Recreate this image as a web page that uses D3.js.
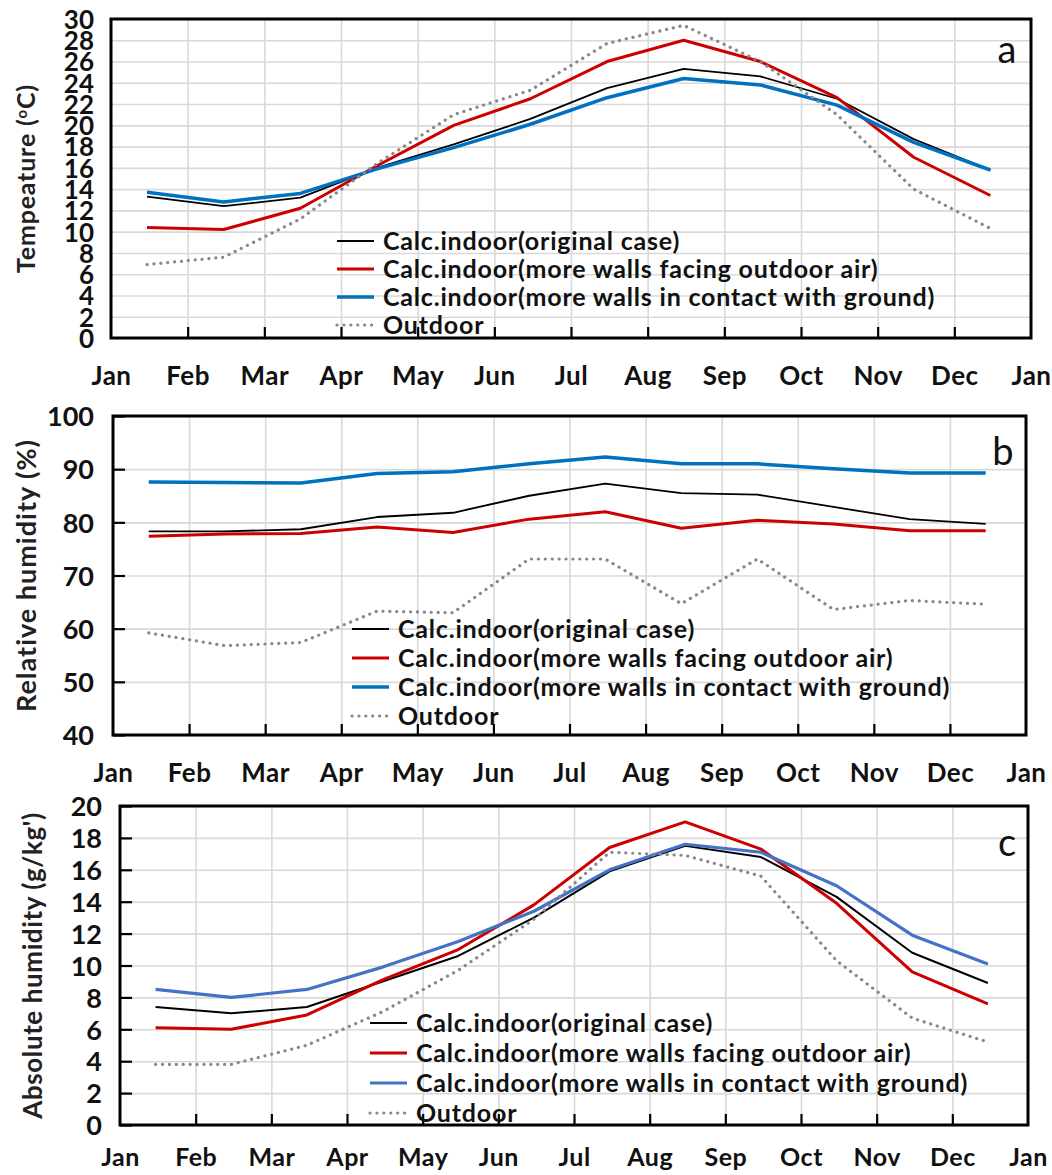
<!DOCTYPE html>
<html>
<head>
<meta charset="utf-8">
<script src="https://cdn.jsdelivr.net/npm/d3@7"></script>
<style>
  body { margin: 0; background: #fff; }
  text { font-family: Lato, "Open Sans", sans-serif; }
</style>
</head>
<body>
<div id="chart"></div>
<script>
// month labels on the x axis (boundaries), values sit at mid-month
const monthLabels = ["Jan","Feb","Mar","Apr","May","Jun","Jul","Aug","Sep","Oct","Nov","Dec","Jan"];
const seriesNames = [
  "Calc.indoor(original case)",
  "Calc.indoor(more walls facing outdoor air)",
  "Calc.indoor(more walls in contact with ground)",
  "Outdoor"
];

// (a) temperature, degC
const tempOriginal = [13.3, 12.4, 13.2, 16.0, 18.2, 20.6, 23.5, 25.3, 24.6, 22.5, 18.7, 15.8];
const tempOutWalls = [10.4, 10.2, 12.2, 16.2, 20.0, 22.5, 26.0, 28.0, 26.0, 22.6, 17.0, 13.4];
const tempGround   = [13.7, 12.8, 13.6, 15.9, 17.9, 20.1, 22.6, 24.4, 23.8, 21.9, 18.4, 15.8];
const tempOutdoor  = [6.9, 7.6, 11.2, 16.4, 21.0, 23.3, 27.7, 29.4, 26.0, 21.0, 14.0, 10.3];

// (b) relative humidity, %
const rhOriginal = [78.3, 78.3, 78.7, 81.0, 81.8, 85.0, 87.3, 85.5, 85.2, 82.9, 80.6, 79.7];
const rhOutWalls = [77.4, 77.8, 77.9, 79.1, 78.1, 80.6, 82.0, 78.9, 80.4, 79.7, 78.4, 78.4];
const rhGround   = [87.6, 87.5, 87.4, 89.2, 89.5, 91.0, 92.3, 91.0, 91.0, 90.1, 89.3, 89.3];
const rhOutdoor  = [59.2, 56.8, 57.4, 63.3, 63.0, 73.1, 73.1, 64.7, 73.1, 63.6, 65.3, 64.6];

// (c) absolute humidity, g/kg'
const ahOriginal = [7.4, 7.0, 7.4, 9.0, 10.6, 13.0, 15.9, 17.5, 16.8, 14.3, 10.8, 8.9];
const ahOutWalls = [6.1, 6.0, 6.9, 9.1, 11.0, 13.8, 17.4, 19.0, 17.3, 13.9, 9.6, 7.6];
const ahGround   = [8.5, 8.0, 8.5, 9.9, 11.5, 13.4, 16.0, 17.6, 17.1, 15.0, 11.9, 10.1];
const ahOutdoor  = [3.8, 3.8, 5.0, 7.1, 9.7, 12.9, 17.1, 16.9, 15.6, 10.3, 6.7, 5.2];

const midMonth = 0.47;

const svg = d3.select("#chart")
  .append("svg")
  .attr("width", 1052)
  .attr("height", 1175);

/**
 * draw one panel (frame, grid, axes, lines, legend)
 */
function drawPanel(p){
  const x = d3.scaleLinear().domain([0, 12]).range([p.left, p.right]);
  const y = d3.scaleLinear().domain([p.yMin, p.yMax]).range([p.bottom, p.top]);
  const g = svg.append("g");

  // grid
  g.append("g")
    .attr("transform", "translate(" + p.left + ",0)")
    .call(d3.axisLeft(y).tickValues(d3.range(p.yMin, p.yMax + 0.01, p.gridStep))
      .tickSize(-(p.right - p.left)).tickFormat(""))
    .call(a => a.select(".domain").remove())
    .call(a => a.selectAll("line").attr("stroke", "#d9d9d9").attr("stroke-width", 1.6));
  g.append("g")
    .attr("transform", "translate(0," + p.bottom + ")")
    .call(d3.axisBottom(x).tickValues(d3.range(1, 12)).tickSize(-(p.bottom - p.top)).tickFormat(""))
    .call(a => a.select(".domain").remove())
    .call(a => a.selectAll("line").attr("stroke", "#d9d9d9").attr("stroke-width", 1.6));

  // inward month ticks
  g.append("g")
    .attr("transform", "translate(0," + p.bottom + ")")
    .call(d3.axisBottom(x).tickValues(d3.range(1, 12)).tickSize(-11).tickFormat(""))
    .call(a => a.select(".domain").remove())
    .call(a => a.selectAll("line").attr("stroke", "#000").attr("stroke-width", 2.2));

  // x labels
  g.append("g")
    .attr("transform", "translate(0," + p.xLabelY + ")")
    .call(d3.axisBottom(x).tickValues(d3.range(0, 13)).tickSize(0)
      .tickFormat(i => monthLabels[i]))
    .call(a => a.select(".domain").remove())
    .call(a => a.selectAll("text")
      .attr("dy", "0.35em").attr("y", 0)
      .style("font-size", p.xFont + "px").style("font-weight", 700)
      .style("letter-spacing", "0.5px").attr("fill", "#111"));

  // y ticks and labels
  g.append("g")
    .attr("transform", "translate(" + p.left + ",0)")
    .call(d3.axisRight(y).tickValues(d3.range(p.yMin, p.yMax + 0.01, p.yStep))
      .tickSize(p.yTickLen).tickFormat(""))
    .call(a => a.select(".domain").remove())
    .call(a => a.selectAll("line").attr("stroke", "#000").attr("stroke-width", 2.2));
  g.append("g")
    .attr("transform", "translate(" + p.labelEdge + ",0)")
    .call(d3.axisLeft(y).tickValues(d3.range(p.yMin, p.yMax + 0.01, p.yStep)).tickSize(0))
    .call(a => a.select(".domain").remove())
    .call(a => a.selectAll("text")
      .attr("x", 0).attr("dy", "0.36em")
      .style("font-size", p.tickFont + "px").style("font-weight", 700).attr("fill", "#111"));

  // y title
  const t = g.append("text")
    .attr("transform", "translate(" + p.titleX + "," + (p.top + p.bottom) / 2 + ") rotate(-90)")
    .attr("text-anchor", "middle")
    .attr("dy", "0.35em")
    .style("font-size", p.titleSize + "px").style("font-weight", 700)
    .style("letter-spacing", p.titleSpacing + "px").attr("fill", "#222");
  if (p.degree) {
    t.append("tspan").text("Tempeature (");
    t.append("tspan").text("o").style("font-size", "15px").attr("dy", "-0.55em");
    t.append("tspan").text("C)").attr("dy", "0.35em");
  } else {
    t.text(p.title);
  }

  // lines
  const line = d3.line()
    .x((d, i) => x(i + midMonth))
    .y(d => y(d));
  p.series.forEach((s, k) => {
    g.append("path")
      .datum(s)
      .attr("fill", "none")
      .attr("stroke", p.colors[k])
      .attr("stroke-width", p.widths[k])
      .attr("stroke-linejoin", "round")
      .attr("stroke-linecap", k == 3 ? "round" : "butt")
      .attr("stroke-dasharray", k == 3 ? "0.1,6.8" : null)
      .attr("d", line);
  });

  // frame
  g.append("rect")
    .attr("x", p.left).attr("y", p.top)
    .attr("width", p.right - p.left).attr("height", p.bottom - p.top)
    .attr("fill", "none").attr("stroke", "#000").attr("stroke-width", 3);

  // legend
  seriesNames.forEach((name, k) => {
    const ly = p.legY + k * p.legDy;
    g.append("line")
      .attr("x1", p.legX).attr("x2", p.legX + 37)
      .attr("y1", ly).attr("y2", ly)
      .attr("stroke", p.colors[k])
      .attr("stroke-width", p.widths[k])
      .attr("stroke-linecap", k == 3 ? "round" : "butt")
      .attr("stroke-dasharray", k == 3 ? "0.1,6.8" : null);
    g.append("text")
      .attr("x", p.legX + 46).attr("y", ly)
      .attr("dy", "0.36em")
      .style("font-size", "25px").style("font-weight", 700)
      .style("letter-spacing", "0.8px").attr("fill", "#111")
      .text(name);
  });

  // panel letter
  g.append("text")
    .attr("x", p.letterX).attr("y", p.letterY)
    .attr("text-anchor", "middle")
    .style("font-size", "38px").attr("fill", "#111")
    .text(p.letter);
}

drawPanel({
  left: 111, right: 1031, top: 19, bottom: 338,
  yMin: 0, yMax: 30, yStep: 2, gridStep: 2, yTickLen: 0,
  labelEdge: 94, tickFont: 26, xLabelY: 376, xFont: 26,
  titleX: 26, degree: true, titleSize: 25, titleSpacing: 0.8,
  series: [tempOriginal, tempOutWalls, tempGround, tempOutdoor],
  colors: ["#000", "#cc0000", "#0070c0", "#888"],
  widths: [1.8, 3, 3.5, 3.2],
  legX: 337, legY: 241, legDy: 28,
  letter: "a", letterX: 1007, letterY: 63
});

drawPanel({
  left: 113, right: 1026, top: 416, bottom: 735,
  yMin: 40, yMax: 100, yStep: 10, gridStep: 10, yTickLen: 12,
  labelEdge: 94, tickFont: 27, xLabelY: 773, xFont: 26,
  titleX: 27, title: "Relative humidity (%)", titleSize: 27, titleSpacing: 1,
  series: [rhOriginal, rhOutWalls, rhGround, rhOutdoor],
  colors: ["#000", "#cc0000", "#0070c0", "#888"],
  widths: [1.8, 3, 3.5, 3.2],
  legX: 352, legY: 629, legDy: 29,
  letter: "b", letterX: 1003, letterY: 465
});

drawPanel({
  left: 120, right: 1028, top: 806, bottom: 1125,
  yMin: 0, yMax: 20, yStep: 2, gridStep: 2, yTickLen: 12,
  labelEdge: 102, tickFont: 27, xLabelY: 1157, xFont: 25,
  titleX: 33, title: "Absolute humidity (g/kg')", titleSize: 26, titleSpacing: 0.6,
  series: [ahOriginal, ahOutWalls, ahGround, ahOutdoor],
  colors: ["#000", "#cc0000", "#4472c4", "#888"],
  widths: [2, 3, 3.2, 3.2],
  legX: 370, legY: 1023, legDy: 30,
  letter: "c", letterX: 1007, letterY: 856
});
</script>
</body>
</html>
